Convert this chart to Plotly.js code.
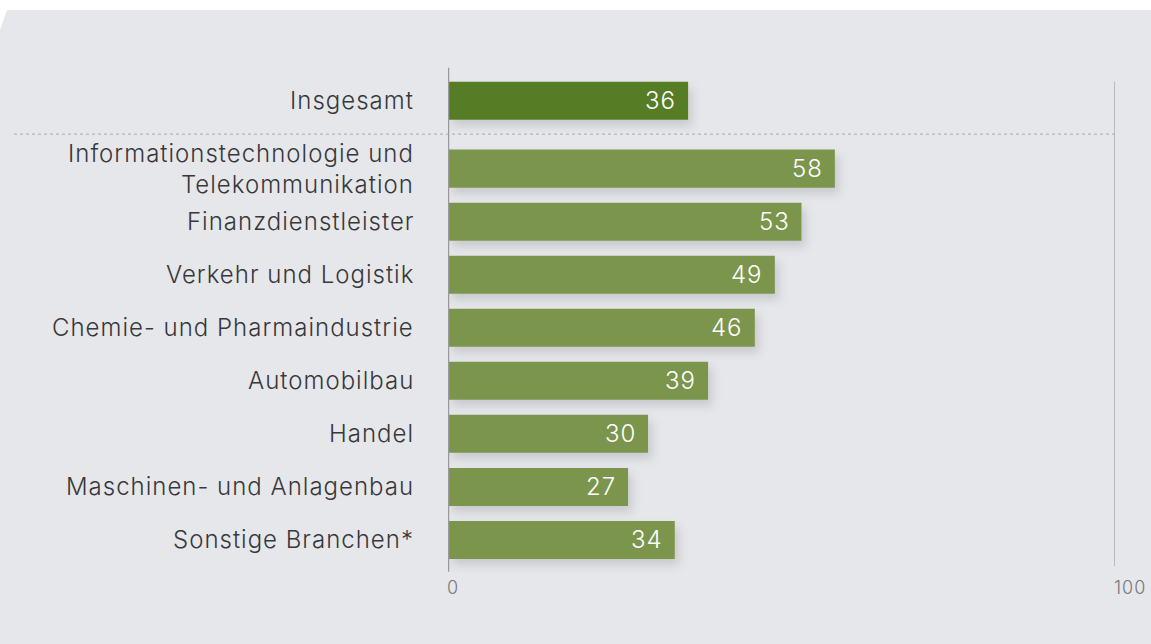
<!DOCTYPE html>
<html>
<head>
<meta charset="utf-8">
<script src="https://cdn.plot.ly/plotly-3.0.1.min.js"></script>
<style>
  html, body { margin: 0; padding: 0; background: #fff; }
  #panel {
    position: absolute; left: 0; top: 10px; width: 1151px; height: 634px;
    background: #e6e7eb;
    clip-path: polygon(7px 0, 100% 0, 100% 100%, 0 100%, 0 20px);
  }
  #chart { position: absolute; left: 0; top: 0; width: 1151px; height: 644px; }
  .annotation-text { letter-spacing: 1px; }
</style>
</head>
<body>
<div id="panel"></div>
<div id="chart"></div>
<script>
// categories, top to bottom as drawn
const categories = [
  'Insgesamt',
  'Informationstechnologie und<br>Telekommunikation',
  'Finanzdienstleister',
  'Verkehr und Logistik',
  'Chemie- und Pharmaindustrie',
  'Automobilbau',
  'Handel',
  'Maschinen- und Anlagenbau',
  'Sonstige Branchen*'
];
const values = [36, 58, 53, 49, 46, 39, 30, 27, 34];
// row positions (the total row sits a bit apart from the rest)
const rowPos = [8.28, 7, 6, 5, 4, 3, 2, 1, 0];
const barColors = ['#567c27', '#7b954e', '#7b954e', '#7b954e', '#7b954e', '#7b954e', '#7b954e', '#7b954e', '#7b954e'];
const axisTicks = [0, 100];

const font = 'Inter, Roboto, sans-serif';

const trace = {
  type: 'bar',
  orientation: 'h',
  x: values,
  y: rowPos,
  width: 0.717,
  marker: { color: barColors, line: { width: 0 } },
  hoverinfo: 'skip'
};

const catLabels = categories.map((c, i) => ({
  x: 0, y: rowPos[i], xref: 'paper', yref: 'y',
  text: c, showarrow: false,
  xanchor: 'right', align: 'right', xshift: -32,
  font: { family: font, size: 24, weight: 300, color: '#38383a' }
}));

const valueLabels = values.map((v, i) => ({
  x: v, y: rowPos[i], xref: 'x', yref: 'y',
  text: String(v), showarrow: false,
  xanchor: 'right', xshift: -10,
  font: { family: font, size: 24, weight: 300, color: '#ffffff' }
}));

const tickLabels = axisTicks.map(t => ({
  x: t, y: -0.9, xref: 'x', yref: 'y',
  text: String(t), showarrow: false,
  xanchor: 'left', xshift: -3,
  font: { family: font, size: 18, weight: 300, color: '#77777b' }
}));

const layout = {
  width: 1151, height: 644,
  margin: { l: 448, r: 36, t: 36, b: 51 },
  paper_bgcolor: 'rgba(0,0,0,0)',
  plot_bgcolor: 'rgba(0,0,0,0)',
  showlegend: false,
  xaxis: { range: [0, 100], showgrid: false, zeroline: false, showticklabels: false, showline: false, fixedrange: true },
  yaxis: { range: [-1, 9.5], showgrid: false, zeroline: false, showline: false, showticklabels: false, fixedrange: true },
  shapes: [
    { type: 'line', xref: 'paper', yref: 'y', x0: (14 - 448) / 667, x1: 1, y0: 7.65, y1: 7.65,
      line: { color: '#a8a8ac', width: 1, dash: 'dot' }, layer: 'below' },
    { type: 'line', xref: 'x', yref: 'y', x0: 0, x1: 0, y0: -0.6, y1: 8.9,
      line: { color: '#9a9a9e', width: 2.5 } },
    { type: 'line', xref: 'x', yref: 'y', x0: 100, x1: 100, y0: -0.49, y1: 8.64,
      line: { color: '#ababaf', width: 1.5 } }
  ],
  annotations: catLabels.concat(valueLabels, tickLabels)
};

Plotly.newPlot('chart', [trace], layout, { displayModeBar: false, staticPlot: true }).then(gd => {
  // soft drop shadow under the bars
  const svg = gd.querySelector('svg.main-svg');
  const ns = 'http://www.w3.org/2000/svg';
  let defs = svg.querySelector('defs');
  if (!defs) { defs = document.createElementNS(ns, 'defs'); svg.insertBefore(defs, svg.firstChild); }
  const f = document.createElementNS(ns, 'filter');
  f.setAttribute('id', 'barShadow');
  f.setAttribute('x', '-20%'); f.setAttribute('y', '-50%');
  f.setAttribute('width', '140%'); f.setAttribute('height', '220%');
  f.innerHTML = '<feDropShadow dx="4" dy="6" stdDeviation="5" flood-color="#000" flood-opacity="0.13"/>';
  defs.appendChild(f);
  gd.querySelectorAll('.bars .point path').forEach(p => p.setAttribute('filter', 'url(#barShadow)'));
});
</script>
</body>
</html>
